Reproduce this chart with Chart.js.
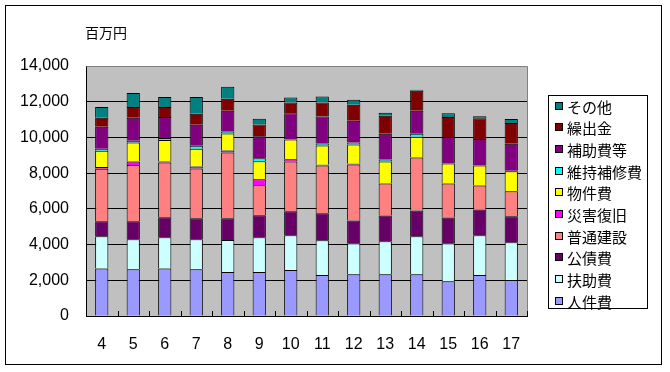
<!DOCTYPE html>
<html>
<head>
<meta charset="utf-8">
<script src="https://cdn.jsdelivr.net/npm/chart.js@4"></script>
<style>
  html, body { margin: 0; padding: 0; background: #fff; }
  canvas { display: block; }
</style>
</head>
<body>
<canvas id="chart" width="670" height="372"></canvas>
<script>
// 年度（平成）
const years = ['4', '5', '6', '7', '8', '9', '10', '11', '12', '13', '14', '15', '16', '17'];

// 歳出の内訳（百万円）
const jinkenhi   = [2660, 2620, 2660, 2620, 2460, 2460, 2570, 2290, 2340, 2340, 2340, 1950, 2290, 2010];
const fujohi     = [1800, 1680, 1750, 1680, 1790, 1950, 1950, 1950, 1730, 1840, 2120, 2120, 2230, 2120];
const kosaihi    = [840, 1000, 1120, 1170, 1230, 1230, 1340, 1510, 1280, 1450, 1450, 1450, 1450, 1450];
const futsuKensetsu = [2940, 3160, 3070, 2790, 3680, 1680, 2790, 2680, 3130, 1790, 2960, 1900, 1340, 1400];
const saigai     = [110, 190, 50, 110, 110, 340, 130, 40, 50, 0, 0, 0, 0, 0];
const bukkenhi   = [910, 1060, 1210, 1000, 950, 1000, 1100, 1080, 1070, 1230, 1170, 1120, 1120, 1120];
const iji        = [110, 110, 110, 170, 110, 170, 20, 110, 110, 110, 170, 30, 30, 30];
const hojohi     = [1230, 1280, 1170, 1170, 1170, 1230, 1450, 1510, 1230, 1450, 1280, 1450, 1450, 1510];
const kuridashi  = [500, 610, 560, 610, 670, 670, 610, 780, 890, 1000, 1120, 1120, 1170, 1170];
const sonota     = [600, 780, 560, 950, 670, 320, 280, 340, 280, 170, 60, 220, 110, 220];

const yTicks = [0, 2000, 4000, 6000, 8000, 10000, 12000, 14000];

const series = [
    { label: '人件費', data: jinkenhi, color: '#9999FF' },
    { label: '扶助費', data: fujohi, color: '#CCFFFF' },
    { label: '公債費', data: kosaihi, color: '#660066' },
    { label: '普通建設', data: futsuKensetsu, color: '#FF8080' },
    { label: '災害復旧', data: saigai, color: '#FF00FF' },
    { label: '物件費', data: bukkenhi, color: '#FFFF00' },
    { label: '維持補修費', data: iji, color: '#00FFFF' },
    { label: '補助費等', data: hojohi, color: '#800080' },
    { label: '繰出金', data: kuridashi, color: '#800000' },
    { label: 'その他', data: sonota, color: '#008080' }
];

const numFont = { family: "'Liberation Sans', Arial, sans-serif", size: 16 };
const jpFont = "'Noto Sans CJK JP', sans-serif";

// 背景・枠・単位・目盛り・凡例
const decorPlugin = {
    id: 'decor',
    beforeDraw(chart) {
        const { ctx, chartArea: a } = chart;
        ctx.save();
        ctx.fillStyle = '#fff';
        ctx.fillRect(0, 0, chart.width, chart.height);
        ctx.strokeStyle = '#000';
        ctx.lineWidth = 1;
        ctx.strokeRect(5.5, 5.5, 656, 359);
        ctx.fillStyle = '#C0C0C0';
        ctx.fillRect(a.left, a.top, a.right - a.left, a.bottom - a.top);
        ctx.fillStyle = '#000';
        ctx.font = '14px ' + jpFont;
        ctx.textBaseline = 'middle';
        ctx.fillText('百万円', 85, 33);
        ctx.restore();
    },
    afterDatasetsDraw(chart) {
        const { ctx, chartArea: a } = chart;
        const x = chart.scales.x;
        ctx.save();
        // 外枠（上・右）
        ctx.strokeStyle = '#808080';
        ctx.lineWidth = 1;
        ctx.beginPath();
        ctx.moveTo(Math.round(a.left) + 0.5, Math.round(a.top) + 0.5);
        ctx.lineTo(Math.round(a.right) + 0.5, Math.round(a.top) + 0.5);
        ctx.lineTo(Math.round(a.right) + 0.5, Math.round(a.bottom));
        ctx.stroke();
        // x軸の内向き目盛り
        ctx.strokeStyle = '#000';
        const step = (x.getPixelForTick(1) - x.getPixelForTick(0));
        ctx.beginPath();
        for (let i = 0; i < years.length; i++) {
            const px = Math.round(x.getPixelForTick(i) + step / 2) + 0.5;
            ctx.moveTo(px, a.bottom);
            ctx.lineTo(px, a.bottom - 5);
        }
        ctx.stroke();
        ctx.restore();
    },
    afterDraw(chart) {
        const { ctx } = chart;
        ctx.save();
        ctx.fillStyle = '#fff';
        ctx.fillRect(548, 95, 99, 213);
        ctx.strokeStyle = '#000';
        ctx.lineWidth = 1;
        ctx.strokeRect(548.5, 95.5, 99, 213);
        ctx.font = '15px ' + jpFont;
        ctx.textBaseline = 'middle';
        const ds = chart.data.datasets;
        for (let k = 0; k < ds.length; k++) {
            const d = ds[ds.length - 1 - k];
            const cy = Math.round(105.7 + k * 21.67);
            ctx.fillStyle = d.backgroundColor;
            ctx.fillRect(555, cy - 4, 8, 8);
            ctx.strokeRect(555.5, cy - 3.5, 7, 7);
            ctx.fillStyle = '#000';
            ctx.fillText(d.label, 567, cy + 1);
        }
        ctx.restore();
    }
};

new Chart(document.getElementById('chart'), {
    type: 'bar',
    data: {
        labels: years,
        datasets: series.map(s => ({
            label: s.label,
            data: s.data,
            backgroundColor: s.color,
            borderColor: '#000',
            borderWidth: 1,
            borderSkipped: 'start',
            barPercentage: 0.42,
            categoryPercentage: 1
        }))
    },
    options: {
        responsive: false,
        animation: false,
        layout: { padding: { left: 0, top: 66, right: 143, bottom: 0 } },
        plugins: {
            legend: { display: false },
            tooltip: { enabled: false }
        },
        scales: {
            x: {
                stacked: true,
                grid: { display: false },
                border: { display: true, color: '#000', width: 1 },
                ticks: { color: '#000', font: numFont, padding: 11, maxRotation: 0 },
                afterFit: s => { s.height = 56; }
            },
            y: {
                stacked: true,
                min: 0,
                max: 14000,
                afterBuildTicks: s => { s.ticks = yTicks.map(v => ({ value: v })); },
                grid: {
                    drawTicks: false,
                    color: c => (c.tick && c.tick.value === 14000) ? '#808080' : '#000'
                },
                border: { display: true, color: '#000', width: 1 },
                ticks: {
                    color: '#000',
                    font: numFont,
                    padding: 17,
                    callback: v => v.toLocaleString('en-US')
                },
                afterFit: s => { s.width = 86; }
            }
        }
    },
    plugins: [decorPlugin]
});
</script>
</body>
</html>
